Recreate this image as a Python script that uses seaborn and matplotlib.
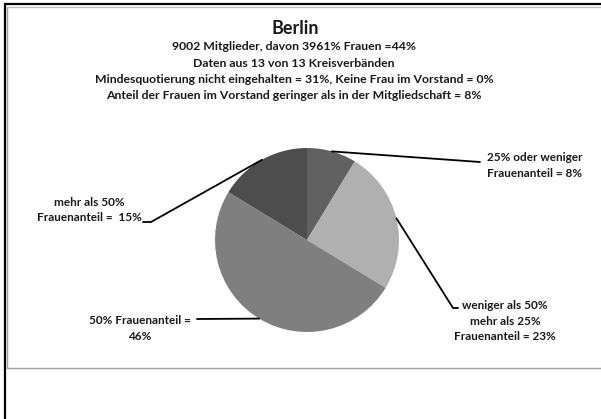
import numpy as np
import matplotlib
matplotlib.use("Agg")
import matplotlib.pyplot as plt
import seaborn as sns
from matplotlib.lines import Line2D

sns.set_theme(style="white")
plt.rcParams['font.family'] = ['Lato', 'DejaVu Sans']

# Data
categories = ["25% oder weniger", "weniger als 50% mehr als 25%", "50% Frauenanteil", "mehr als 50%"]
values = [8, 23, 46, 15]
labels = ["25% oder weniger\nFrauenanteil = 8%",
          "weniger als 50%\nmehr als 25%\nFrauenanteil = 23%",
          "50% Frauenanteil =\n46%",
          "mehr als 50%\nFrauenanteil =  15%"]
colors = ["#616161", "#b0b0b0", "#7f7f7f", "#4d4d4d"]
title = "Berlin"
subtitle = ["9002 Mitglieder, davon 3961% Frauen =44%",
            "Daten aus 13 von 13 Kreisverbänden",
            "Mindesquotierung nicht eingehalten = 31%, Keine Frau im Vorstand = 0%",
            "Anteil der Frauen im Vorstand geringer als in der Mitgliedschaft = 8%"]

W, H = 601, 419
fig = plt.figure(figsize=(W / 100, H / 100), dpi=100)
fig.patch.set_facecolor("white")

def fx(px):
    return px / W

def fy(py):
    return 1 - py / H

# Pie axes
cx, cy, r = 307, 240, 92
ax = fig.add_axes([fx(cx - r), fy(cy + r), 2 * r / W, 2 * r / H])
wedges, _ = ax.pie(values, colors=colors, startangle=90, counterclock=False,
                   radius=1, wedgeprops=dict(linewidth=0))
ax.set_xlim(-1, 1)
ax.set_ylim(-1, 1)
ax.set_aspect("auto")
ax.axis("off")

txtcol = "#1a1a1a"
# Titles
fig.text(fx(295), fy(29), title, ha="center", va="center", fontsize=13,
         fontweight="bold", color=txtcol)
for i, s in enumerate(subtitle):
    fig.text(fx(294), fy(47 + 16.3 * i), s, ha="center", va="center",
             fontsize=8.8, fontweight="bold", color=txtcol)

# Label layout (pixel positions of text centers and leader ends)
label_pos = [(535, 165.5), (505, 321), (140, 328.5), (89, 210)]
leader_end = [[(480, 162)], [(453, 308), (458, 308)], [(197, 319)], [(151, 222), (143, 222)]]

total = sum(values)
cum = 0
for i, v in enumerate(values):
    mid = (cum + v / 2) / total * 2 * np.pi
    cum += v
    sx = cx + r * np.sin(mid)
    sy = cy - r * np.cos(mid)
    pts = [(sx, sy)] + leader_end[i]
    xs = [fx(p[0]) for p in pts]
    ys = [fy(p[1]) for p in pts]
    fig.add_artist(Line2D(xs, ys, color="black", lw=1.3, transform=fig.transFigure))
    lx, ly = label_pos[i]
    fig.text(fx(lx), fy(ly), labels[i], ha="center", va="center", fontsize=8.5,
             fontweight="bold", color=txtcol, linespacing=1.45, multialignment="center")

# Frame lines
fig.add_artist(Line2D([fx(4.5), fx(4.5)], [fy(4.5), fy(419)], color="black", lw=1.6, transform=fig.transFigure))
fig.add_artist(Line2D([fx(4.5), fx(601)], [fy(4.5), fy(4.5)], color="black", lw=1.6, transform=fig.transFigure))
fig.add_artist(Line2D([fx(7), fx(7)], [fy(7), fy(368)], color="#a0a0a0", lw=1.0, transform=fig.transFigure))
fig.add_artist(Line2D([fx(7), fx(601)], [fy(7), fy(7)], color="#c0c0c0", lw=1.0, transform=fig.transFigure))
fig.add_artist(Line2D([fx(7), fx(601)], [fy(368), fy(368)], color="#a0a0a0", lw=1.0, transform=fig.transFigure))

fig.savefig("out.png", dpi=100, facecolor="white")
